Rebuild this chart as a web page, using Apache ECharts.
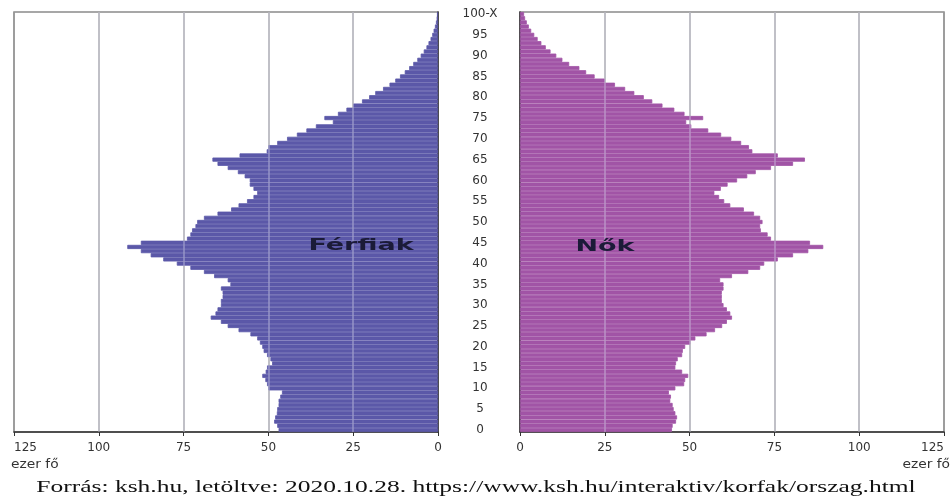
<!DOCTYPE html>
<html><head><meta charset="utf-8">
<script src="https://cdn.jsdelivr.net/npm/echarts@6.0.0/dist/echarts.min.js"></script>
<style>html,body{margin:0;padding:0;background:#fff}#c{width:952px;height:501px}</style>
</head><body><div id="c"></div>
<script>
// Age categories (bottom to top)
const ages = ['0','1','2','3','4','5','6','7','8','9','10','11','12','13','14','15','16','17','18','19',
  '20','21','22','23','24','25','26','27','28','29','30','31','32','33','34','35','36','37','38','39',
  '40','41','42','43','44','45','46','47','48','49','50','51','52','53','54','55','56','57','58','59',
  '60','61','62','63','64','65','66','67','68','69','70','71','72','73','74','75','76','77','78','79',
  '80','81','82','83','84','85','86','87','88','89','90','91','92','93','94','95','96','97','98','99','100-X'];

// Férfiak (ezer fő), age 0 .. 100-X
const males = [47,47.4,48.3,48,47.5,47.4,47,47,46.5,46,
  50,50.4,50.9,51.8,50.8,50.4,48.9,49.4,50.4,51.4,
  51.8,52.5,53.3,55.3,58.8,62,64,67,65.6,65,
  64,64,63.5,63.5,64,61.2,62,66,69,73,
  77,81,84.7,87.6,91.6,87.6,74,73,72.5,71.5,
  71,69,65,61,58.8,56.3,54.4,53.3,54.4,55.5,
  55.5,57,59,62,65,66.5,58.5,50.5,50,47.4,
  44.5,41.6,38.8,36,31,33.5,29.5,27,25,22.4,
  20.3,18.5,16.2,14.3,12.6,11.2,9.8,8.5,7.3,6.1,
  5.1,4.2,3.4,2.8,2.2,1.7,1.3,0.9,0.6,0.4,0.3];

// Nők (ezer fő), age 0 .. 100-X
const females = [44.8,45,46,46.3,45.8,45.3,45,44.3,44.5,43.9,
  45.8,48.4,48.7,49.6,47.8,45.8,46,46.5,47.8,48,
  48.7,50.2,51.7,55,57.5,59.6,61,62.5,62,61,
  60,59.5,59.5,59.5,60,60,59,62.5,67.3,70.8,
  72,76,80.5,85,89.4,85.5,74,73,71,70.8,
  71.5,70.8,69,66,62,60.2,58.7,57.3,59.2,61.2,
  64,67,69.5,74,80.5,84,76,68.5,67.5,65.2,
  62.3,59.3,55.5,50.5,49,54,48.5,45.5,42,39,
  36.5,33.7,31,28,25,22,19.5,17.5,14.5,12.5,
  10.7,9,7.6,6.3,5.2,4.2,3.3,2.6,2,1.5,1.2];

const xTicks = [0,25,50,75,100,125];
const maleLabel = 'Férfiak';
const femaleLabel = 'Nők';
const unitLabel = 'ezer fő';
const sourceText = 'Forrás: ksh.hu, letöltve: 2020.10.28. https://www.ksh.hu/interaktiv/korfak/orszag.html';

const MALE_COLOR = '#5b58a8';
const FEMALE_COLOR = '#a154a6';
const FONT = 'DejaVu Sans';
const chart = echarts.init(document.getElementById('c'), null, {renderer:'canvas'});

function xAxisCfg(idx, inverse, alignMax){
  return {
    gridIndex: idx, type:'value', inverse: inverse,
    min: xTicks[0], max: xTicks[xTicks.length-1], interval: xTicks[1]-xTicks[0],
    position:'bottom',
    axisLine:{show:true, onZero:false, lineStyle:{color:'#333', width:1.5}},
    axisTick:{show:true, length:4, lineStyle:{color:'#333', width:1}},
    axisLabel:{color:'#333', fontFamily:FONT, fontSize:12, margin:10, alignMaxLabel: alignMax},
    splitLine:{show:true, lineStyle:{color:'#9a9a9a', width:1.5}}
  };
}
const gridMarks = {
  silent:true, symbol:'none', label:{show:false},
  lineStyle:{color:'rgba(220,220,240,0.45)', width:1.5, type:'solid'},
  data: xTicks.slice(1, xTicks.length-1).map(v => ({xAxis: v}))
};

const option = {
  animation:false,
  backgroundColor:'#fff',
  grid:[
    {left:14, top:12, width:424, height:420, show:true, borderColor:'#8a8a8a', borderWidth:1.5},
    {left:520, top:12, width:424, height:420, show:true, borderColor:'#8a8a8a', borderWidth:1.5}
  ],
  xAxis:[ xAxisCfg(0, true, 'left'), xAxisCfg(1, false, 'right') ],
  yAxis:[
    {gridIndex:0, type:'category', data:ages, position:'right',
     axisLine:{show:true, lineStyle:{color:'#333', width:1.5}}, axisTick:{show:false}, axisLabel:{show:false}, splitLine:{show:false}},
    {gridIndex:1, type:'category', data:ages, position:'left',
     axisLine:{show:true, lineStyle:{color:'#333', width:1.5}}, axisTick:{show:false}, splitLine:{show:false},
     axisLabel:{show:true, interval:(i)=> i % 5 === 0, margin:40, align:'center',
       color:'#333', fontFamily:FONT, fontSize:12}}
  ],
  series:[
    {name:maleLabel, type:'bar', xAxisIndex:0, yAxisIndex:0, data:males,
     barCategoryGap:'0%', itemStyle:{color:MALE_COLOR, borderColor:MALE_COLOR, borderWidth:0.8}, markLine:gridMarks},
    {name:femaleLabel, type:'bar', xAxisIndex:1, yAxisIndex:1, data:females,
     barCategoryGap:'0%', itemStyle:{color:FEMALE_COLOR, borderColor:FEMALE_COLOR, borderWidth:0.8}, markLine:gridMarks}
  ],
  graphic:[
    {type:'text', x:361, y:246, scaleX:1.8, z:100,
     style:{text:maleLabel, font:'bold 15px "DejaVu Sans"', fill:'#1b1b38', textAlign:'center', textVerticalAlign:'middle', align:'center', verticalAlign:'middle'}},
    {type:'text', x:605, y:247, scaleX:1.8, z:100,
     style:{text:femaleLabel, font:'bold 15px "DejaVu Sans"', fill:'#1b1b38', textAlign:'center', textVerticalAlign:'middle', align:'center', verticalAlign:'middle'}},
    {type:'text', x:11, y:465, scaleX:1.15, z:100,
     style:{text:unitLabel, font:'12px "DejaVu Sans"', fill:'#333', textAlign:'left', textVerticalAlign:'middle', align:'left', verticalAlign:'middle'}},
    {type:'text', x:950, y:465, scaleX:1.15, z:100,
     style:{text:unitLabel, font:'12px "DejaVu Sans"', fill:'#333', textAlign:'right', textVerticalAlign:'middle', align:'right', verticalAlign:'middle'}},
    {type:'text', x:476, y:488, scaleX:1.5, z:100,
     style:{text:sourceText, font:'17px "Liberation Serif"', fill:'#111', textAlign:'center', textVerticalAlign:'middle', align:'center', verticalAlign:'middle'}}
  ]
};
chart.setOption(option);
</script>
</body></html>
